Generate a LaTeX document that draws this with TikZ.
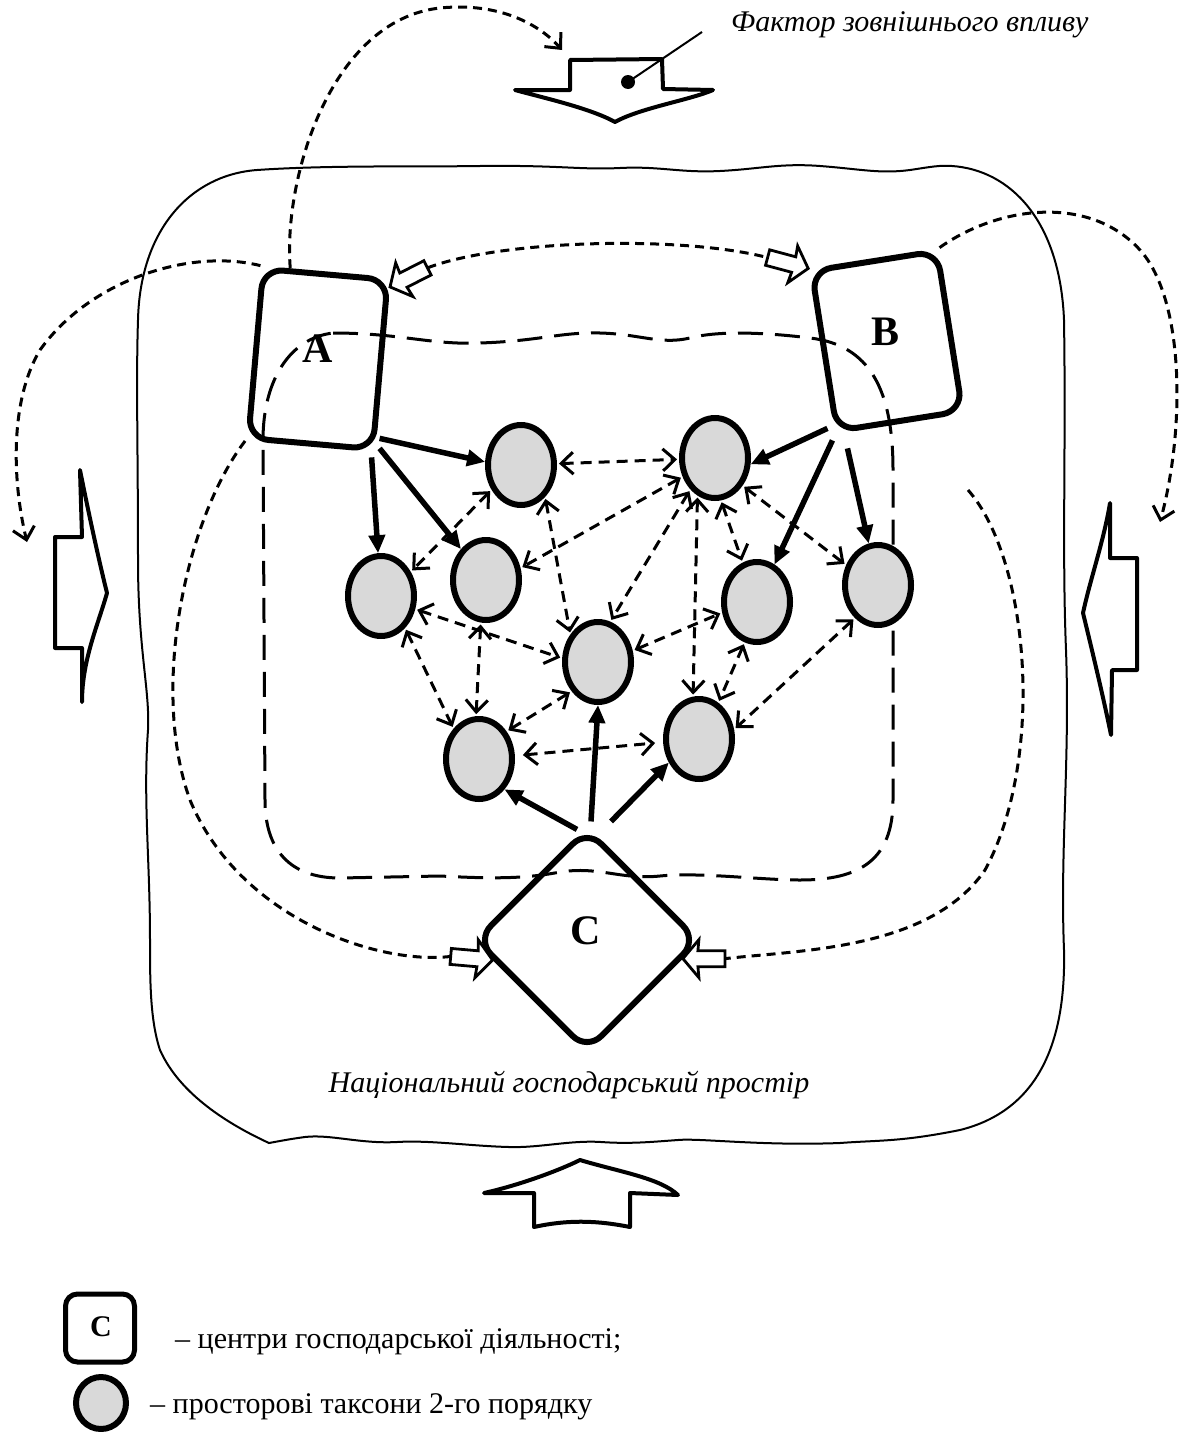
\documentclass[tikz,border=0pt]{standalone}
\usepackage{fontspec}
\setmainfont{Liberation Serif}
\usetikzlibrary{arrows.meta,shapes.geometric,calc}
\definecolor{taxgray}{RGB}{217,217,217}
\tikzset{
  harrow/.pic={\draw[line width=2.8pt, fill=white, line join=miter]
     (0,0) -- (-16,-19) -- (-15,-8) -- (-42,-8) -- (-42,8) -- (-15,8) -- (-16,19) -- cycle;
     \coordinate (-tail) at (-42,0);},
  frameline/.style={line width=2pt},
  regionline/.style={line width=3pt, dash pattern=on 25pt off 12pt},
  dotline/.style={line width=3pt, dash pattern=on 9pt off 6pt},
  barb/.tip={Straight Barb[length=12pt,width=22pt]},
  dotarr/.style={dotline, -barb},
  dasharr/.style={line width=3pt, dash pattern=on 11pt off 7pt, barb-barb, shorten <=2pt, shorten >=2pt},
  solidarr/.style={line width=5.5pt, -{Triangle[length=18pt,width=16pt]}},
  centre/.style={draw, line width=6pt, rounded corners=20pt, inner sep=0pt},
  taxon/.style={ellipse, draw, line width=6pt, fill=taxgray, minimum width=66pt, minimum height=80pt, inner sep=0pt},
  lab/.style={font=\bfseries\fontsize{42}{46}\selectfont, inner sep=0pt},
  bigarrow/.style={line width=4pt, line join=round, fill=white},
}
\begin{document}
\begin{tikzpicture}[x=1pt,y=-1pt]
\useasboundingbox (0,0) rectangle (1186,1432);

% outer frame: national economic space
\draw[frameline] (257,170) .. controls (330,165) and (420,167) .. (480,166)
  .. controls (560,165) and (580,170) .. (620,168)
  .. controls (660,166) and (680,173) .. (720,171)
  .. controls (760,169) and (780,163) .. (820,166)
  .. controls (860,169) and (880,174) .. (910,170)
  .. controls (930,167) and (940,165) .. (952,166)
  .. controls (1010,170) and (1060,220) .. (1064,320)
  .. controls (1066,450) and (1062,550) .. (1066,650)
  .. controls (1070,760) and (1060,850) .. (1064,950)
  .. controls (1066,1040) and (1040,1110) .. (960,1130)
  .. controls (900,1142) and (880,1140) .. (840,1143)
  .. controls (760,1146) and (700,1138) .. (678,1140)
  .. controls (650,1142) and (630,1144) .. (601,1142)
  .. controls (570,1140) and (540,1148) .. (509,1147)
  .. controls (470,1146) and (430,1140) .. (397,1142)
  .. controls (360,1144) and (330,1134) .. (305,1137)
  .. controls (290,1139) and (280,1141) .. (269,1143)
  .. controls (230,1125) and (180,1095) .. (160,1050)
  .. controls (150,1020) and (150,980) .. (150,940)
  .. controls (150,860) and (143,800) .. (148,730)
  .. controls (150,690) and (138,650) .. (138,560)
  .. controls (138,450) and (136,380) .. (138,320)
  .. controls (140,230) and (190,175) .. (257,170) -- cycle;

% inner dashed region
\draw[regionline] (333,333) .. controls (400,333) and (430,345) .. (480,343)
  .. controls (540,341) and (560,332) .. (600,333)
  .. controls (640,334) and (660,345) .. (690,338)
  .. controls (720,330) and (770,333) .. (810,338)
  .. controls (870,345) and (893,390) .. (893,470) -- (893,800)
  .. controls (893,860) and (860,880) .. (800,880)
  .. controls (760,880) and (700,872) .. (660,876)
  .. controls (620,880) and (600,866) .. (560,872)
  .. controls (520,880) and (480,878) .. (440,876) -- (340,878)
  .. controls (290,878) and (265,850) .. (265,800) -- (263,440)
  .. controls (263,380) and (290,338) .. (333,333) -- cycle;

% external factor arrows
\draw[bigarrow] (570,60) -- (662,59) -- (663,89) -- (713,90)
  .. controls (690,100) and (640,108) .. (615,122)
  .. controls (590,108) and (540,97) .. (515,90) -- (570,90) -- cycle;
\draw[bigarrow] (55,537) -- (82,537) -- (80,470)
  .. controls (90,520) and (100,565) .. (107,593)
  .. controls (98,625) and (82,660) .. (82,702) -- (82,648) -- (55,648) -- cycle;
\draw[bigarrow] (1137,558) -- (1110,558) -- (1110,503)
  .. controls (1104,540) and (1090,580) .. (1083,613)
  .. controls (1092,650) and (1104,700) .. (1111,735) -- (1112,670) -- (1137,670) -- cycle;
\draw[bigarrow] (534,1193) -- (484,1193)
  .. controls (520,1185) and (560,1170) .. (580,1160)
  .. controls (620,1172) and (660,1178) .. (678,1195) -- (630,1193) -- (630,1227)
  .. controls (600,1221) and (570,1219) .. (534,1227) -- cycle;

\node[circle, fill=black, inner sep=0pt, minimum size=14pt] (dot) at (628,82) {};
\coordinate (leaderend) at (702,32);
\draw[line width=2pt] (dot.center) -- (leaderend);
\node[anchor=base west, inner sep=0pt, font=\itshape\fontsize{30}{34}\selectfont] (factor) at (731,31) {Фактор зовнішнього впливу};
\node[anchor=base, inner sep=0pt, font=\itshape\fontsize{30}{34}\selectfont] (space) at (569,1092) {Національний господарський простір};

% centres of economic activity
\node[centre, minimum width=125pt, minimum height=170pt, rotate=-5] (A) at (318,359) {};
\node[centre, minimum width=127pt, minimum height=162pt, rotate=9] (B) at (887,341) {};
\node[centre, minimum width=156pt, minimum height=156pt, rotate=45] (C) at (587,940) {};
\node[lab] (Alab) at (318,349) {A};
\node[lab] (Blab) at (885,332) {B};
\node[lab] (Clab) at (586,931) {C};

% spatial taxa
\node[taxon] (e1) at (521,465) {};
\node[taxon] (e2) at (486,580) {};
\node[taxon] (e3) at (381,596) {};
\node[taxon] (e4) at (598,662) {};
\node[taxon] (e5) at (479,759) {};
\node[taxon] (e6) at (715,458) {};
\node[taxon] (e7) at (757,602) {};
\node[taxon] (e8) at (878,585) {};
\node[taxon] (e9) at (699,739) {};

% solid arrows
\draw[solidarr] ($(A.south east)+(4,-14)$) -- (e1.175);
\draw[solidarr] ($(A.south east)+(-4,5)$) -- (e3);
\draw[solidarr] ($(A.south east)+(4,-4)$) -- (e2);
\draw[solidarr] ($(B.south west)+(-7,-6)$) -- (e6.-10);
\draw[solidarr] ($(B.south west)+(-2,6)$) -- (e7);
\draw[solidarr] ($(B.south west)+(13,14)$) -- (e8);
\draw[solidarr] ($(C.north east)+(-10,4)$) -- (e5.-50);
\draw[solidarr] ($(C.north east)+(4,-4)$) -- (e4.south);
\draw[solidarr] ($(C.north east)+(24,-4)$) -- (e9.218);

% dashed two-way links
\draw[dasharr] (e1) -- (e6);
\draw[dasharr] (e1.220) -- (e3.39);
\draw[dasharr] (e1.-53) -- (e4.135);
\draw[dasharr] (e6.210) -- (e2.19);
\draw[dasharr] (e6.232) -- (e4.73);
\draw[dasharr] (e6.-115) -- (e9.98);
\draw[dasharr] (e6.-82) -- (e7.110);
\draw[dasharr] (e6.-45) -- (e8.148);
\draw[dasharr] (e3.-21) -- (e4.174);
\draw[dasharr] (e3.-53) -- (e5.130);
\draw[dasharr] (e2.-97) -- (e5.94);
\draw[dasharr] (e4.228) -- (e5.45);
\draw[dasharr, shorten <=8pt, shorten >=8pt] (e5) -- (e9);
\draw[dasharr] (e4.18) -- (e7.197);
\draw[dasharr] (e7.-107) -- (e9.62);
\draw[dasharr] (e8.235) -- (e9.15);

% hollow arrows and dotted influence lines
\pic[rotate=207] (pa) at (A.50) {harrow};
\pic[rotate=-15] (pb) at (B.north west) {harrow};
\pic[rotate=-5] (pcl) at (C.147) {harrow};
\pic[rotate=180] (pcr) at (C.-56) {harrow};

\coordinate (topin) at (562,50);
\coordinate (leftin) at (27,542);
\coordinate (rightin) at (1160,522);
\coordinate (rstart) at (968,490);

\draw[dotarr] (A.112) .. controls (283,180) and (330,20) .. (440,8)
  .. controls (500,2) and (540,25) .. (topin);
\draw[dotarr] (A.north west) .. controls (190,248) and (90,280) .. (40,350)
  .. controls (10,400) and (12,480) .. (leftin);
\draw[dotline] (A.south west) .. controls (185,520) and (150,690) .. (190,800)
  .. controls (240,920) and (380,965) .. (pcl-tail);
\draw[dotline] (pa-tail) .. controls (500,240) and (680,235) .. (pb-tail);
\draw[dotarr] (B.north east) .. controls (1000,205) and (1090,195) .. (1140,250)
  .. controls (1185,300) and (1185,430) .. (rightin);
\draw[dotline] (rstart) .. controls (1030,560) and (1045,760) .. (985,870)
  .. controls (930,950) and (800,950) .. (pcr-tail);

% legend
\node[draw, line width=5pt, rounded corners=12pt, minimum width=69pt, minimum height=68pt] (legC) at (100,1328) {};
\node[inner sep=0pt, font=\bfseries\fontsize{30}{34}\selectfont] (legClab) at (101,1327) {C};
\node[taxon, minimum width=50pt, minimum height=52pt] (legE) at (101,1403) {};
\node[anchor=base west, inner sep=0pt, font=\fontsize{30}{34}\selectfont] (legt1) at (175,1348) {– центри господарської діяльності;};
\node[anchor=base west, inner sep=0pt, font=\fontsize{30}{34}\selectfont] (legt2) at (150,1413) {– просторові таксони 2-го порядку};
\end{tikzpicture}
\end{document}
